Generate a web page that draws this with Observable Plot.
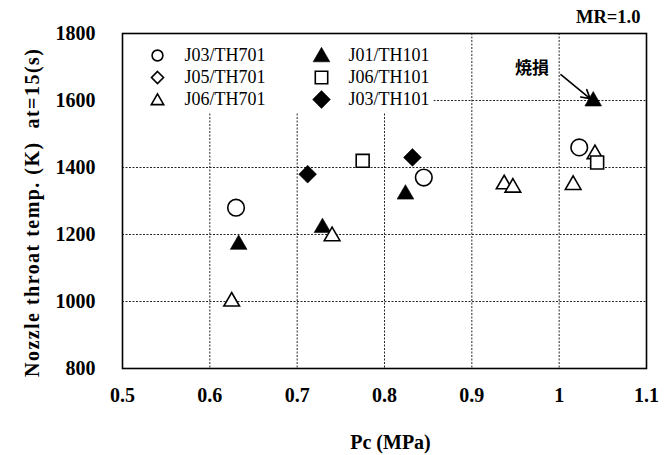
<!DOCTYPE html>
<html>
<head>
<meta charset="utf-8">
<script src="https://cdn.jsdelivr.net/npm/d3@7"></script>
<script src="https://cdn.jsdelivr.net/npm/@observablehq/plot@0.6"></script>
<style>
  html, body { margin: 0; padding: 0; background: #fff; }
  svg text { white-space: pre; }
</style>
</head>
<body>
<div id="chart"></div>
<script>
// Nozzle throat temperature at t = 15 s versus chamber pressure, MR = 1.0
const xTicks = [0.5, 0.6, 0.7, 0.8, 0.9, 1, 1.1];
const yTicks = [800, 1000, 1200, 1400, 1600, 1800];
const xGrid = [0.6, 0.7, 0.8, 0.9, 1];
const yGrid = [1000, 1200, 1400, 1600];

const seriesNames = ["J03/TH701", "J05/TH701", "J06/TH701", "J01/TH101", "J06/TH101", "J03/TH101"];

// Pc (MPa) and temperature (K) per injector / thermocouple pair
const pcJ03TH701 = [0.63, 0.845, 1.023];
const tJ03TH701 = [1280, 1370, 1460];
const pcJ05TH701 = [];
const tJ05TH701 = [];
const pcJ06TH701 = [0.625, 0.74, 0.937, 0.947, 1.016, 1.041];
const tJ06TH701 = [1000, 1195, 1350, 1340, 1348, 1440];
const pcJ01TH101 = [0.633, 0.729, 0.824, 1.039];
const tJ01TH101 = [1170, 1220, 1320, 1598];
const pcJ06TH101 = [0.775, 1.0435];
const tJ06TH101 = [1420, 1415];
const pcJ03TH101 = [0.712, 0.832];
const tJ03TH101 = [1380, 1430];

// burn-damage note pointing at the 1.04 MPa J01/TH101 run
const noteText = "焼損";
const notePc = [0.969];
const noteT = [1695];
const arrowFrom = [1.002, 1677];

const yTitle = "Nozzle throat temp. (K)  at=15(s)";
const xTitle = "Pc (MPa)";
const cornerNote = "MR=1.0";

const pts = (pc, t) => pc.map((x, i) => ({x, y: t[i]}));

const serif = "'Liberation Serif', 'Times New Roman', serif";

// marker styles per series: [symbol, filled, plot r, legend r]
const styles = {
  "J03/TH701": ["circle", false, 8.3, 5.4],
  "J05/TH701": ["diamond2", false, 7.5, 5.4],
  "J06/TH701": ["triangle", false, 5.8, 4.6],
  "J01/TH101": ["triangle", true, 6.2, 6.2],
  "J06/TH101": ["square", false, 7.3, 7.0],
  "J03/TH101": ["diamond2", true, 8.0, 8.0]
};
const seriesData = {
  "J03/TH701": pts(pcJ03TH701, tJ03TH701),
  "J05/TH701": pts(pcJ05TH701, tJ05TH701),
  "J06/TH701": pts(pcJ06TH701, tJ06TH701),
  "J01/TH101": pts(pcJ01TH101, tJ01TH101),
  "J06/TH101": pts(pcJ06TH101, tJ06TH101),
  "J03/TH101": pts(pcJ03TH101, tJ03TH101)
};

function dotMark(name) {
  const [symbol, filled, r] = styles[name];
  return Plot.dot(seriesData[name], {
    x: "x", y: "y", symbol, r,
    fill: filled ? "black" : "white",
    stroke: "black",
    strokeWidth: filled ? 0.6 : 1.6
  });
}

// legend: two columns of three rows, inside the top-left corner of the frame
const legendMarks = [];
seriesNames.forEach((name, i) => {
  const col = Math.floor(i / 3), row = i % 3;
  const [symbol, filled, , lr] = styles[name];
  const dy = 22 + row * 22 + (symbol === "triangle" ? 1.5 : 0);
  legendMarks.push(Plot.dot([name], {
    frameAnchor: "top-left", dx: 35 + col * 164, dy,
    symbol, r: lr,
    fill: filled ? "black" : "white",
    stroke: "black", strokeWidth: filled ? 0.6 : 1.6
  }));
  legendMarks.push(Plot.text([name], {
    text: d => d,
    frameAnchor: "top-left", dx: 62 + col * 164, dy: 22 + row * 22,
    textAnchor: "start", lineAnchor: "middle",
    fontFamily: serif, fontSize: 18, fill: "black"
  }));
});

const chart = Plot.plot({
  width: 666,
  height: 455,
  marginLeft: 122,
  marginRight: 20,
  marginTop: 33,
  marginBottom: 87,
  style: {fontFamily: serif, background: "white", color: "black"},
  x: {domain: [0.5, 1.1]},
  y: {domain: [800, 1800]},
  marks: [
    Plot.ruleX(xGrid, {stroke: "black", strokeWidth: 1, strokeDasharray: "2,1.5", strokeOpacity: 0.85}),
    Plot.ruleY(yGrid, {stroke: "black", strokeWidth: 1, strokeDasharray: "2,1.5", strokeOpacity: 0.85}),
    // blank panel behind the legend
    Plot.rect([0], {x1: () => 0.5, x2: () => 0.8565, y1: () => 1561, y2: () => 1800, fill: "white"}),
    Plot.frame({stroke: "black", strokeWidth: 1.6}),
    Plot.axisX(xTicks, {
      tickSize: 0, tickPadding: 19, tickFormat: d => `${d}`,
      fontSize: 20, fontWeight: "bold", label: null
    }),
    Plot.axisY(yTicks, {
      tickSize: 0, tickPadding: 27, tickFormat: d => `${d}`,
      fontSize: 20, fontWeight: "bold", label: null
    }),
    dotMark("J03/TH701"),
    dotMark("J05/TH701"),
    dotMark("J01/TH101"),
    dotMark("J03/TH101"),
    dotMark("J06/TH701"),
    dotMark("J06/TH101"),
    Plot.arrow([0], {
      x1: () => arrowFrom[0], y1: () => arrowFrom[1],
      x2: () => pcJ01TH101[3], y2: () => tJ01TH101[3],
      insetEnd: 4, headLength: 9, stroke: "black", strokeWidth: 1.6
    }),
    Plot.text([noteText], {
      x: () => notePc[0], y: () => noteT[0], text: d => d,
      fontFamily: "'Noto Sans CJK JP', sans-serif", fontSize: 17, fontWeight: "bold",
      textAnchor: "middle", lineAnchor: "middle", fill: "black"
    }),
    ...legendMarks,
    Plot.text([cornerNote], {
      text: d => d, frameAnchor: "top-right", dx: -6, dy: -16,
      textAnchor: "end", lineAnchor: "middle",
      fontSize: 18.5, fontWeight: "bold", fill: "black"
    }),
    Plot.text([xTitle], {
      text: d => d, frameAnchor: "bottom", dx: 6, dy: 74,
      textAnchor: "middle", lineAnchor: "middle",
      fontSize: 20, fontWeight: "bold", fill: "black"
    }),
    Plot.text([yTitle], {
      text: d => d, frameAnchor: "left", dx: -90, dy: 12, rotate: -90,
      textAnchor: "middle", lineAnchor: "middle",
      fontSize: 20, fontWeight: "bold", fill: "black"
    })
  ]
});

document.getElementById("chart").appendChild(chart);

// spread the rotated y title over the left margin and centre it beside the frame
const titleNode = [...chart.querySelectorAll("text")].find(n => n.textContent === yTitle);
if (titleNode) {
  titleNode.setAttribute("textLength", 328);
  titleNode.setAttribute("lengthAdjust", "spacing");
  const box = titleNode.getBoundingClientRect();
  const frame = chart.getBoundingClientRect();
  const cx = box.left + box.width / 2 - frame.left;
  const cy = box.top + box.height / 2 - frame.top;
  const prev = titleNode.getAttribute("transform") || "";
  titleNode.setAttribute("transform", `translate(${32 - cx},${213 - cy}) ${prev}`);
}
</script>
</body>
</html>
